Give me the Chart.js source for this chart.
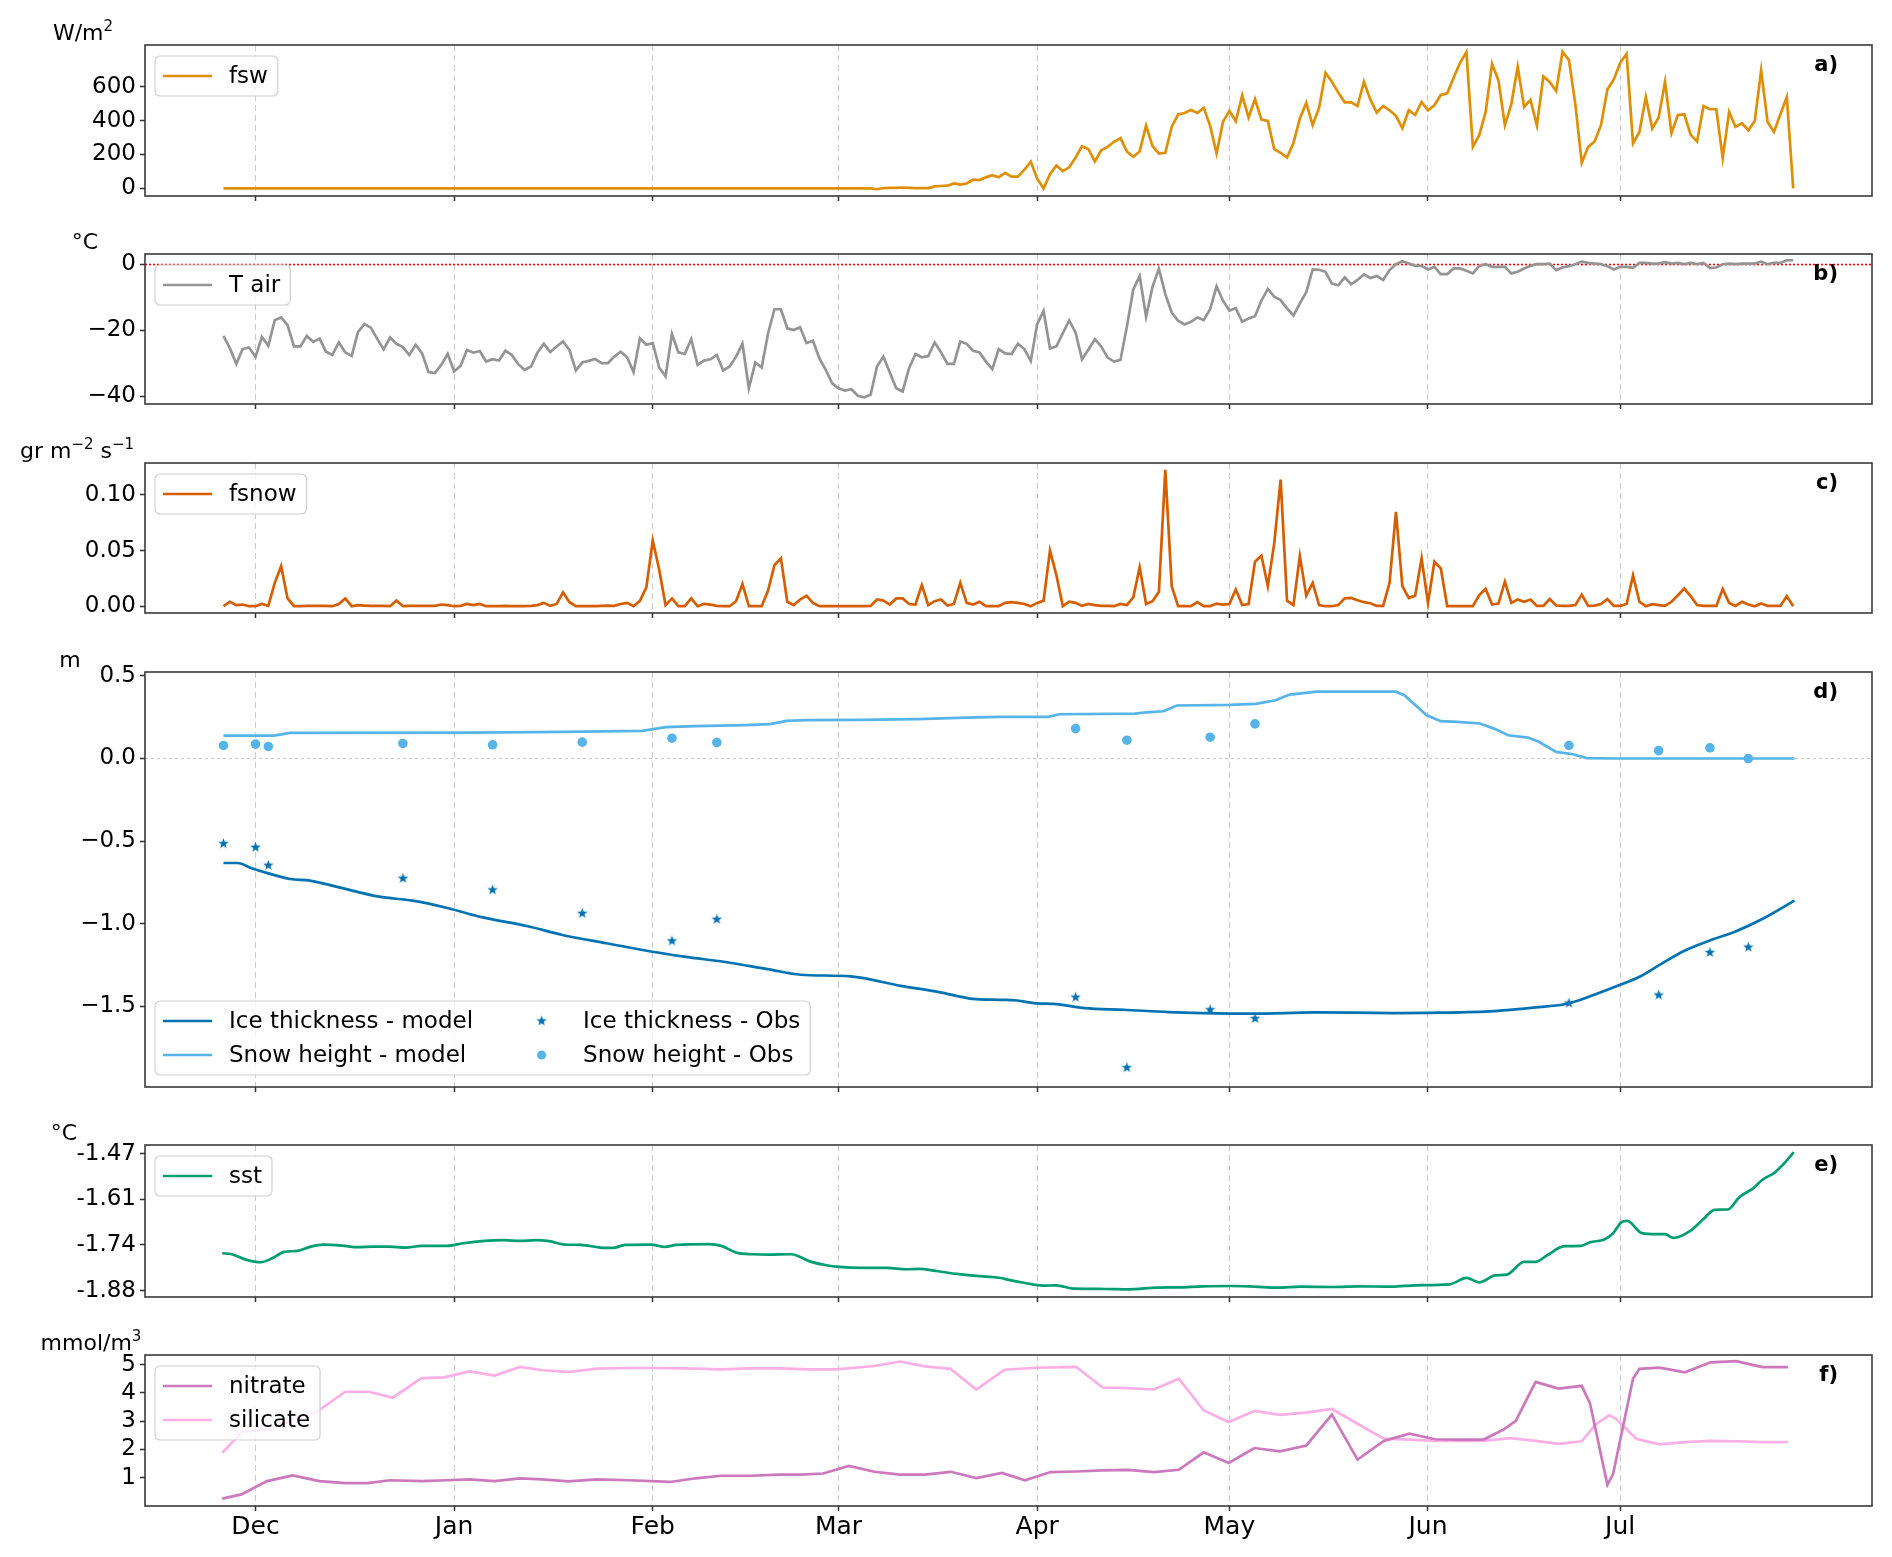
<!DOCTYPE html>
<html>
<head>
<meta charset="utf-8">
<script src="https://cdn.jsdelivr.net/npm/chart.js@4.4.0/dist/chart.umd.min.js"></script>
<style>
  html, body { margin: 0; padding: 0; background: #fff; }
  #wrap { position: relative; width: 1892px; height: 1557px; overflow: hidden; }
  #wrap canvas { position: absolute; left: 0; }
</style>
</head>
<body>
<div id="wrap"></div>
<script>
// x is "days since 1 Dec 2019"; daily series start on 26 Nov (day -5)
const FIRST_DAY = -5;
const MONTH_DAYS = [0, 31, 62, 91, 122, 152, 183, 213];
const MONTH_LABELS = ['Dec', 'Jan', 'Feb', 'Mar', 'Apr', 'May', 'Jun', 'Jul'];

// a) shortwave flux, W/m2, daily
const fsw = [
  0,0,0,0,0,0,0,0,0,0,
  0,0,0,0,0,0,0,0,0,0,
  0,0,0,0,0,0,0,0,0,0,
  0,0,0,0,0,0,0,0,0,0,
  0,0,0,0,0,0,0,0,0,0,
  0,0,0,0,0,0,0,0,0,0,
  0,0,0,0,0,0,0,0,0,0,
  0,0,0,0,0,0,0,0,0,0,
  0,0,0,0,0,0,0,0,0,0,
  0,0,0,0,0,0,0,0,0,0,
  0,
  0,-5,2,3,3,5,3,1,1,2,
  12,14,16,29,22,29,51,49,65,78,
  65,92,69,69,110,157,57,0,84,135,
  102,124,182,249,231,159,225,245,275,296,
  218,186,218,371,249,206,210,363,437,445,
  463,445,475,369,206,392,457,396,549,418,
  527,406,398,231,210,182,267,412,504,373,
  476,682,629,565,508,508,486,629,525,447,
  486,461,428,355,461,433,510,461,490,551,
  561,653,741,804,245,314,451,735,637,373,
  496,718,480,522,371,661,628,575,806,757,
  496,151,245,277,373,584,643,741,794,265,
  333,539,353,418,629,326,433,437,316,277,
  486,467,467,178,451,363,384,343,398,696,
  392,333,437,539,0
];

// b) air temperature, degC, daily
const tair = [
  -21.7,-25.5,-30.2,-25.7,-25.2,-28.1,-22.0,-24.7,-16.9,-16.1,
  -18.4,-24.9,-24.9,-21.7,-23.5,-22.5,-26.5,-27.5,-23.7,-26.7,
  -27.8,-20.5,-18.1,-19.2,-22.6,-25.8,-22.2,-24.1,-25.1,-27.5,
  -24.4,-27.0,-32.7,-33.0,-30.5,-27.2,-32.5,-30.8,-26.0,-26.8,
  -26.3,-29.5,-28.8,-29.2,-26.2,-27.5,-30.3,-32.0,-31.0,-26.8,
  -24.1,-26.6,-24.9,-23.4,-26.0,-32.2,-29.8,-29.3,-28.7,-30.0,
  -30.0,-28.0,-26.5,-28.2,-32.7,-22.4,-24.4,-23.9,-31.3,-34.0,
  -21.1,-26.7,-27.2,-22.7,-30.5,-29.2,-28.8,-27.5,-32.2,-31.0,
  -28.0,-24.1,-37.6,-29.8,-31.3,-20.9,-13.6,-13.6,-19.4,-19.9,
  -19.1,-23.9,-23.2,-28.5,-32.0,-36.1,-37.6,-38.3,-37.9,-39.9,
  -40.4,-39.6,-31.0,-28.0,-32.8,-37.6,-38.6,-31.5,-27.2,-28.2,
  -27.8,-23.7,-26.7,-30.2,-30.2,-23.4,-24.1,-26.2,-26.7,-29.5,
  -31.8,-25.7,-27.0,-27.2,-24.1,-25.7,-29.3,-18.1,-14.1,-25.5,
  -24.9,-20.9,-17.0,-20.7,-28.8,-25.8,-22.7,-24.9,-28.3,-29.5,
  -29.0,-18.9,-7.6,-3.5,-15.9,-6.8,-1.3,-9.0,-14.6,-17.1,
  -18.2,-17.4,-16.1,-16.9,-13.6,-6.6,-11.0,-14.0,-13.3,-17.4,
  -16.4,-15.7,-11.0,-7.4,-9.8,-10.8,-13.3,-15.5,-11.8,-8.4,
  -1.5,-1.6,-2.2,-5.8,-6.3,-3.9,-6.0,-4.7,-3.0,-4.1,
  -3.5,-4.7,-1.7,0.1,1.0,0.3,-0.4,-0.4,-1.5,-0.7,
  -2.9,-2.9,-1.2,-1.2,-1.9,-2.7,-0.4,0.1,-0.7,-0.7,
  -0.7,-2.7,-2.2,-1.2,-0.4,0.1,0.1,0.3,-1.7,-0.9,
  -0.5,0.1,0.9,0.5,0.3,0.1,-0.5,-1.5,-0.7,-0.7,
  -1.0,0.5,0.5,0.3,0.3,0.7,0.3,0.5,0.1,0.5,
  0.1,0.5,-1.1,-0.9,0.1,0.3,0.1,0.3,0.3,0.3,
  0.9,0.1,0.5,0.5,1.3,1.3
];

// c) snowfall, gr m-2 s-1, daily
const fsnow = [
  0,0.004,0.001,0.0015,0,0,0.002,0.0003,0.021,0.036,
  0.007,0,0,0.0003,0.0003,0.0003,0.0003,0,0.002,0.007,
  0,0.001,0.0006,0.0003,0.0003,0.0003,0,0.005,0,0.0003,
  0.0003,0.0003,0.0003,0.0003,0.0015,0.001,0,0.0003,0.002,0.001,
  0.002,0,0,0,0.0003,0,0,0,0.0003,0.001,
  0.003,0.0003,0.002,0.0125,0.0036,0,0,0,0,0.0003,
  0.0006,0.0003,0.002,0.003,0,0.0048,0.017,0.059,0.033,0.001,
  0.007,0,0,0.007,0,0.002,0.0015,0.0003,0,0,
  0.0045,0.020,0,0,0,0.014,0.037,0.043,0.004,0.001,
  0.006,0.0095,0.003,0,0,0,0,0,0,0,
  0,0.0003,0.006,0.005,0.0015,0.007,0.007,0.002,0.0015,0.019,
  0.001,0.0045,0.006,0.0006,0.002,0.021,0.003,0.0015,0.004,0,
  0,0,0.003,0.0036,0.003,0.002,0,0.003,0.005,0.050,
  0.028,0,0.004,0.003,0.0003,0.002,0.001,0.0003,0.0003,0,
  0.002,0.001,0.008,0.035,0.002,0.0045,0.013,0.1226,0.018,0,
  0,0,0.0036,0,0,0.0024,0.0015,0.002,0.015,0.001,
  0.002,0.040,0.0455,0.018,0.0565,0.1137,0.005,0.001,0.045,0.0095,
  0.021,0.001,0,0,0.001,0.007,0.0074,0.0054,0.0036,0.0027,
  0.0003,0.0003,0.021,0.0848,0.018,0.0074,0.0095,0.043,0.003,0.040,
  0.034,0,0,0,0,0,0.010,0.0155,0.0015,0.0024,
  0.022,0.003,0.006,0.004,0.006,0.0003,0.0003,0.0065,0.0006,0.0003,
  0.0003,0.001,0.0104,0.0003,0.0006,0.002,0.0065,0.0003,0.0003,0.002,
  0.0277,0.004,0,0.0018,0.001,0.0003,0.004,0.0098,0.0158,0.009,
  0.001,0.0003,0.0003,0.0003,0.0155,0.003,0.0003,0.004,0.0015,0,
  0.0024,0.0003,0.0003,0.0003,0.009,0
];

// d) ice thickness / snow height, m
const iceModelDays = [-5,-2.8,-0.6,2.0,5.4,8.5,13.2,19.3,24.5,30.1,34.9,42.7,47.9,54.8,61.7,66.9,73.8,79.9,85.1,92.9,
  100.7,106.7,111.9,116.3,118.9,121.5,125,129.4,135.5,142.5,147.8,155.7,165.3,177.6,184.6,193.3,200.3,204.7,208.2,212.6,
  216.1,219.6,223.1,227.5,231,235.4,240.2];
const iceModel = [-0.633,-0.633,-0.665,-0.696,-0.730,-0.740,-0.782,-0.837,-0.861,-0.907,-0.958,-1.018,-1.069,-1.119,-1.169,-1.200,-1.236,-1.276,-1.310,-1.320,
  -1.377,-1.415,-1.456,-1.462,-1.466,-1.482,-1.488,-1.512,-1.522,-1.536,-1.542,-1.546,-1.538,-1.542,-1.540,-1.530,-1.506,-1.486,-1.442,-1.377,
  -1.321,-1.240,-1.163,-1.095,-1.048,-0.968,-0.861];
const snowModelDays = [-5,2.9,5.4,34,48,60.4,64,68.6,76.4,80.3,82.9,86,94.6,103.3,111,116.3,123.7,125.5,137.3,139,
  141.7,143.8,152.2,156.1,159.2,161.4,165.7,178,179.3,182.8,185,187.6,191.1,193.3,195.5,198.6,200.3,203,205.6,207.8,
  212.6,240.2];
const snowModel = [0.139,0.139,0.155,0.157,0.161,0.167,0.190,0.196,0.202,0.208,0.228,0.232,0.234,0.238,0.248,0.252,0.252,0.268,0.272,0.280,
  0.286,0.321,0.325,0.331,0.353,0.387,0.405,0.405,0.383,0.262,0.226,0.222,0.212,0.181,0.141,0.127,0.101,0.040,0.026,0.002,
  0,0];
const obsDays = [-5,0,2,23,37,51,65,72,128,136,149,156,205,219,227,233];
const iceObs = [-0.516,-0.538,-0.647,-0.726,-0.796,-0.938,-1.105,-0.974,-1.446,-1.873,-1.522,-1.575,-1.482,-1.433,-1.175,-1.143];
const snowObs = [0.079,0.087,0.073,0.091,0.083,0.099,0.123,0.097,0.181,0.111,0.129,0.210,0.079,0.048,0.065,0.000];

// e) sea surface temperature, degC
const sstDays = [-5.2,-3.7,-1.5,0.8,2.5,4.5,6.5,8.5,10.5,13.5,16,18.4,20.9,23.4,25.9,29.9,32.4,35.8,38.8,41.3,
  43.8,45.8,48.3,50.8,53.8,55.8,57.7,61.7,63.9,65.7,70.7,72.7,75.2,77.6,80.1,83.6,86.6,89.1,91.1,94.6,
  98.6,101.5,103.5,106.5,109.5,112.5,116.3,117.4,120.1,122.8,125,127.7,132.6,136.2,140.7,144.3,147.8,152.3,155.9,159.5,
  163.1,168.4,172,177.4,181,186.4,189,191,193.5,195.3,198,199.8,201.6,204.3,206.9,208.3,210.5,211.9,213.2,214.1,
  216.4,218.6,220,221.3,224,226.2,227.7,229.8,231.6,233.8,235.2,237,238.3,240.1];
const sst = [-1.768,-1.771,-1.787,-1.795,-1.784,-1.764,-1.761,-1.749,-1.742,-1.745,-1.750,-1.748,-1.748,-1.751,-1.746,-1.746,-1.738,-1.731,-1.729,-1.731,
  -1.729,-1.732,-1.742,-1.743,-1.751,-1.752,-1.743,-1.742,-1.749,-1.743,-1.741,-1.746,-1.767,-1.771,-1.772,-1.771,-1.793,-1.804,-1.809,-1.812,
  -1.812,-1.816,-1.815,-1.822,-1.830,-1.836,-1.842,-1.847,-1.857,-1.865,-1.864,-1.874,-1.875,-1.876,-1.871,-1.870,-1.867,-1.866,-1.868,-1.871,
  -1.868,-1.869,-1.867,-1.868,-1.864,-1.861,-1.842,-1.855,-1.834,-1.832,-1.794,-1.794,-1.774,-1.747,-1.746,-1.735,-1.727,-1.708,-1.675,-1.671,
  -1.708,-1.711,-1.711,-1.722,-1.700,-1.662,-1.638,-1.637,-1.600,-1.573,-1.548,-1.528,-1.505,-1.465];

// f) nutrients, mmol/m3
const nitrateDays = [-5.2,-2.2,1.8,5.8,10,14,17.5,21,25.9,29.9,33.4,37.3,41.3,44.8,48.8,53.3,58.2,61.7,64.7,68.7,
  72.7,77.2,81.6,85.1,88.6,92.6,96.6,100.6,104.5,108.5,112.5,116.5,120.1,124.1,128.1,132.2,136.2,140.2,144.1,148,
  151.9,155.9,159.9,164,168,172,176.1,180.1,184.1,188.2,191.7,194.9,196.7,199.8,203.4,207,208.3,211,211.9,215,
  216,219.1,223.1,227.1,231.1,235.2,239.2];
const nitrate = [0.26,0.41,0.88,1.08,0.88,0.81,0.81,0.91,0.88,0.91,0.94,0.88,0.98,0.94,0.87,0.94,0.91,0.88,0.85,0.98,
  1.07,1.07,1.11,1.11,1.15,1.42,1.21,1.11,1.11,1.21,0.99,1.17,0.91,1.20,1.22,1.26,1.28,1.20,1.28,1.90,
  1.52,2.05,1.93,2.14,3.23,1.64,2.30,2.56,2.36,2.35,2.35,2.72,3.01,4.39,4.15,4.25,3.62,0.75,1.14,4.50,
  4.85,4.89,4.73,5.08,5.12,4.91,4.91];
const silicateDays = [-5.2,-2,2,5.5,9.5,14,17.7,21.4,25.9,29.4,33.4,37.3,41.3,44.8,48.8,53.3,58.2,62.2,68.7,72.7,
  77.2,81.6,86.6,90.6,96.6,100.6,104.5,108.5,112.5,116.9,121.9,128.1,132.2,136.2,140.2,144.1,148,151.9,155.9,159.9,
  164,168,172,176.1,180.1,184.1,188.2,191.7,195.8,199.8,203.4,207,209.2,211.3,212.3,215.5,219.1,223.1,227.1,231.1,
  235.2,239.2];
const silicate = [1.88,2.64,2.70,3.03,3.32,4.04,4.04,3.83,4.52,4.55,4.76,4.61,4.92,4.80,4.74,4.86,4.88,4.88,4.86,4.83,
  4.87,4.87,4.83,4.83,4.95,5.11,4.94,4.85,4.12,4.82,4.89,4.92,4.19,4.17,4.12,4.50,3.38,2.97,3.36,3.22,
  3.30,3.43,2.91,2.38,2.35,2.30,2.30,2.30,2.40,2.30,2.20,2.29,2.89,3.21,3.09,2.38,2.18,2.26,2.30,2.29,
  2.26,2.26];

// ---------------------------------------------------------------------------

const FONT = '"DejaVu Sans", sans-serif';
const X_MIN = -17.25, X_MAX = 252.3;
const TOPPAD = 40;
const LEG_SIZE = 23, UNIT_SIZE = 22;

const C = {
  orange: '#de8f05', grey: '#949494', red: '#d55e00', blue: '#0173b2',
  lblue: '#56b4e9', green: '#029e73', purple: '#cc78bc', pink: '#fbafe4'
};

const daily = vals => vals.map((v, i) => ({ x: FIRST_DAY + i, y: v }));
const paired = (days, vals) => days.map((d, i) => ({ x: d, y: vals[i] }));

function starImage(color, r) {
  const c = document.createElement('canvas');
  const s = Math.ceil(r * 2 + 2);
  c.width = c.height = s;
  const g = c.getContext('2d');
  g.fillStyle = color;
  g.beginPath();
  for (let k = 0; k < 10; k++) {
    const rad = k % 2 ? r * 0.42 : r;
    const ang = -Math.PI / 2 + k * Math.PI / 5;
    g.lineTo(s / 2 + rad * Math.cos(ang), s / 2 + rad * Math.sin(ang));
  }
  g.closePath();
  g.fill();
  return c;
}
const STAR = starImage(C.blue, 5.5);

function lineSet(data, color, smooth) {
  const ds = { data, borderColor: color, borderWidth: 2.7, pointRadius: 0, tension: 0, fill: false };
  if (smooth) ds.cubicInterpolationMode = 'monotone';
  return ds;
}

function drawRich(ctx, segs, cx, cy) {
  const big = UNIT_SIZE + 'px ' + FONT;
  const small = Math.round(UNIT_SIZE * 0.7) + 'px ' + FONT;
  let w = 0;
  segs.forEach(s => { ctx.font = s[1] ? small : big; w += ctx.measureText(s[0]).width; });
  let x = cx - w / 2;
  const base = cy + UNIT_SIZE * 0.36;
  ctx.textAlign = 'left';
  ctx.textBaseline = 'alphabetic';
  ctx.fillStyle = '#000';
  segs.forEach(s => {
    ctx.font = s[1] ? small : big;
    ctx.fillText(s[0], x, s[1] ? base - UNIT_SIZE * 0.42 : base);
    x += ctx.measureText(s[0]).width;
  });
}

function drawLegend(ctx, a, L) {
  ctx.font = LEG_SIZE + 'px ' + FONT;
  const ncol = L.ncol || 1;
  const nrow = Math.ceil(L.items.length / ncol);
  const cols = [];
  for (let c = 0; c < ncol; c++) cols.push(L.items.slice(c * nrow, (c + 1) * nrow));
  const x0 = a.left + 10;
  const h = 40 + 34 * (nrow - 1);
  const y0 = L.loc === 'lower' ? a.bottom - 12 - h : a.top + 11;
  const colX = [];
  let cx = x0 + 8;
  cols.forEach(col => {
    colX.push(cx);
    const tw = Math.max(...col.map(it => ctx.measureText(it.label).width));
    cx += 66 + tw + 44;
  });
  const w = cx - 44 + 10 - x0;
  ctx.save();
  ctx.fillStyle = 'rgba(255,255,255,0.8)';
  ctx.strokeStyle = '#d0d0d0';
  ctx.lineWidth = 1.2;
  ctx.beginPath();
  ctx.roundRect(x0, y0, w, h, 5);
  ctx.fill();
  ctx.stroke();
  cols.forEach((col, c) => col.forEach((it, r) => {
    const ry = y0 + 20 + 34 * r;
    const hx = colX[c];
    if (it.kind === 'star') {
      ctx.drawImage(STAR, hx + 24.5 - STAR.width / 2, ry - STAR.height / 2);
    } else if (it.kind === 'dot') {
      ctx.fillStyle = it.color;
      ctx.beginPath();
      ctx.arc(hx + 24.5, ry, 4.5, 0, 2 * Math.PI);
      ctx.fill();
    } else {
      ctx.strokeStyle = it.color;
      ctx.lineWidth = 2.7;
      ctx.beginPath();
      ctx.moveTo(hx, ry);
      ctx.lineTo(hx + 49, ry);
      ctx.stroke();
    }
    ctx.fillStyle = '#000';
    ctx.font = LEG_SIZE + 'px ' + FONT;
    ctx.textAlign = 'left';
    ctx.textBaseline = 'middle';
    ctx.fillText(it.label, hx + 66, ry + 1);
  }));
  ctx.restore();
}

// frame, reference lines, unit label, panel letter and legend
const deco = {
  id: 'deco',
  beforeDatasetsDraw(chart, args, o) {
    const { ctx, chartArea: a } = chart;
    const y = chart.scales.y;
    (o.hlines || []).forEach(hl => {
      const py = y.getPixelForValue(hl.value);
      ctx.save();
      ctx.strokeStyle = hl.color;
      ctx.lineWidth = hl.width;
      ctx.setLineDash(hl.dash);
      ctx.beginPath();
      ctx.moveTo(a.left, py);
      ctx.lineTo(a.right, py);
      ctx.stroke();
      ctx.restore();
    });
  },
  afterDraw(chart, args, o) {
    const { ctx, chartArea: a } = chart;
    ctx.save();
    ctx.strokeStyle = '#3a3a3a';
    ctx.lineWidth = 1.6;
    ctx.setLineDash([]);
    ctx.strokeRect(a.left, a.top, a.right - a.left, a.bottom - a.top);
    drawRich(ctx, o.unit, o.unitX, a.top - 13);
    ctx.font = 'bold 21px ' + FONT;
    ctx.fillStyle = '#000';
    ctx.textAlign = 'right';
    ctx.textBaseline = 'middle';
    ctx.fillText(o.letter, a.right - 34, a.top + 21);
    ctx.restore();
    drawLegend(ctx, a, o.legend);
  }
};

const PANELS = [
  {
    top: 45, h: 151, bottom: 12,
    yMin: -45, yMax: 846, yTicks: [0, 200, 400, 600], yLabels: ['0', '200', '400', '600'],
    deco: { unit: [['W/m'], ['2', 1]], unitX: 83, letter: 'a)',
      legend: { items: [{ label: 'fsw', color: C.orange }] } },
    datasets: [lineSet(daily(fsw), C.orange)]
  },
  {
    top: 254, h: 150, bottom: 12,
    yMin: -42.4, yMax: 3.2, yTicks: [-40, -20, 0], yLabels: ['\u221240', '\u221220', '0'],
    deco: { unit: [['\u00b0C']], unitX: 85, letter: 'b)',
      hlines: [{ value: 0, color: '#ff0000', width: 1.6, dash: [2, 2] }],
      legend: { items: [{ label: 'T air', color: C.grey }] } },
    datasets: [lineSet(daily(tair), C.grey)]
  },
  {
    top: 463, h: 150, bottom: 12,
    yMin: -0.0061, yMax: 0.1287, yTicks: [0, 0.05, 0.1], yLabels: ['0.00', '0.05', '0.10'],
    deco: { unit: [['gr m'], ['\u22122', 1], [' s'], ['\u22121', 1]], unitX: 77, letter: 'c)',
      legend: { items: [{ label: 'fsnow', color: C.red }] } },
    datasets: [lineSet(daily(fsnow), C.red)]
  },
  {
    top: 672, h: 415, bottom: 12,
    yMin: -1.99, yMax: 0.524, yTicks: [-1.5, -1, -0.5, 0, 0.5],
    yLabels: ['\u22121.5', '\u22121.0', '\u22120.5', '0.0', '0.5'],
    deco: { unit: [['m']], unitX: 70, letter: 'd)',
      hlines: [{ value: 0, color: '#c8c8c8', width: 1, dash: [3, 3] }],
      legend: { loc: 'lower', ncol: 2, items: [
        { label: 'Ice thickness - model', color: C.blue },
        { label: 'Snow height - model', color: C.lblue },
        { label: 'Ice thickness - Obs', color: C.blue, kind: 'star' },
        { label: 'Snow height - Obs', color: C.lblue, kind: 'dot' }
      ] } },
    datasets: [
      { data: paired(obsDays, iceObs), showLine: false, pointStyle: STAR, pointRadius: 5 },
      { data: paired(obsDays, snowObs), showLine: false, pointStyle: 'circle', pointRadius: 4.8,
        pointBackgroundColor: C.lblue, pointBorderWidth: 0, borderColor: C.lblue },
      lineSet(paired(iceModelDays, iceModel), C.blue, true),
      lineSet(paired(snowModelDays, snowModel), C.lblue)
    ]
  },
  {
    top: 1145, h: 152, bottom: 12,
    yMin: -1.899, yMax: -1.444, yTicks: [-1.88, -1.7433, -1.6067, -1.47],
    yLabels: ['-1.88', '-1.74', '-1.61', '-1.47'],
    deco: { unit: [['\u00b0C']], unitX: 64, letter: 'e)',
      legend: { items: [{ label: 'sst', color: C.green }] } },
    datasets: [lineSet(paired(sstDays, sst), C.green, true)]
  },
  {
    top: 1355, h: 151, bottom: 55, xLabels: true,
    yMin: 0, yMax: 5.34, yTicks: [1, 2, 3, 4, 5], yLabels: ['1', '2', '3', '4', '5'],
    deco: { unit: [['mmol/m'], ['3', 1]], unitX: 91, letter: 'f)',
      legend: { items: [{ label: 'nitrate', color: C.purple }, { label: 'silicate', color: C.pink }] } },
    datasets: [
      lineSet(paired(nitrateDays, nitrate), C.purple),
      lineSet(paired(silicateDays, silicate), C.pink)
    ]
  }
];

const wrap = document.getElementById('wrap');

PANELS.forEach(p => {
  const H = TOPPAD + p.h + p.bottom;
  const cv = document.createElement('canvas');
  cv.width = 1892;
  cv.height = H;
  cv.style.width = '1892px';
  cv.style.height = H + 'px';
  cv.style.top = (p.top - TOPPAD) + 'px';
  wrap.appendChild(cv);

  new Chart(cv, {
    type: 'line',
    data: { datasets: p.datasets },
    options: {
      responsive: false,
      animation: false,
      devicePixelRatio: 1,
      layout: { padding: { top: TOPPAD, right: 20, left: 0, bottom: 0 } },
      plugins: { legend: { display: false }, tooltip: { enabled: false }, deco: p.deco },
      scales: {
        x: {
          type: 'linear', min: X_MIN, max: X_MAX,
          afterBuildTicks: s => { s.ticks = MONTH_DAYS.map(v => ({ value: v })); },
          afterFit: s => { s.height = p.bottom; s.paddingLeft = 0; s.paddingRight = 0; },
          ticks: {
            display: !!p.xLabels, autoSkip: false, maxRotation: 0, padding: 1,
            color: '#000', font: { family: FONT, size: 25 },
            callback: (v, i) => MONTH_LABELS[i]
          },
          grid: { color: 'rgba(170,170,170,0.6)', lineWidth: 1, drawTicks: true,
                  tickLength: 5, tickColor: '#333', tickWidth: 1.5 },
          border: { display: false, dash: [6, 4] }
        },
        y: {
          type: 'linear', min: p.yMin, max: p.yMax,
          afterBuildTicks: s => { s.ticks = p.yTicks.map(v => ({ value: v })); },
          afterFit: s => { s.width = 145; s.paddingTop = 0; s.paddingBottom = 0; },
          ticks: {
            color: '#000', padding: 4, font: { family: FONT, size: 23 },
            callback: (v, i) => p.yLabels[i]
          },
          grid: { drawOnChartArea: false, drawTicks: true, tickLength: 5, tickColor: '#333', tickWidth: 1.5 },
          border: { display: false }
        }
      }
    },
    plugins: [deco]
  });
});
</script>
</body>
</html>
